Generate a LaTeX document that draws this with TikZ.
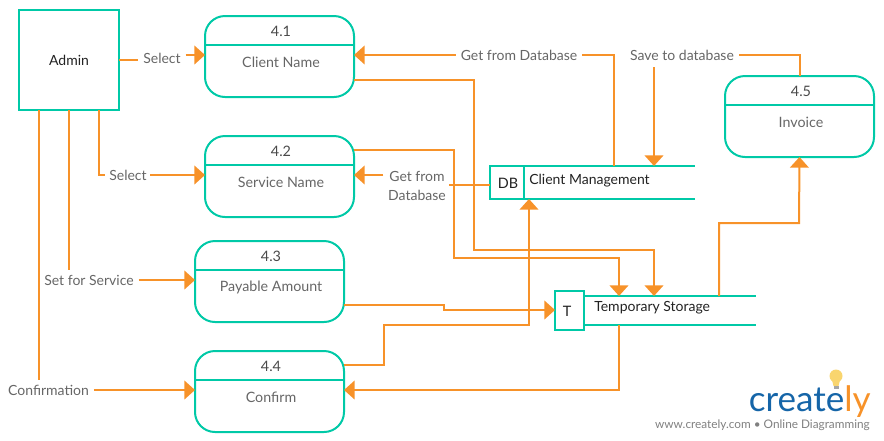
\documentclass[tikz,border=0pt]{standalone}
\usepackage{fontspec}
\setmainfont{Lato}
\usetikzlibrary{arrows.meta,calc}
\definecolor{tealc}{HTML}{00C9A7}
\definecolor{orangec}{HTML}{F79229}
\definecolor{labelc}{HTML}{666666}
\definecolor{numc}{HTML}{4A4A4A}
\definecolor{darkc}{HTML}{222222}
\definecolor{logob}{HTML}{1565A8}
\definecolor{bulbc}{HTML}{F9D56E}
\newcommand{\fs}[1]{\fontsize{#1}{#1}\selectfont}
\tikzset{
  x=0.75pt,y=-0.75pt,
  boxs/.style={draw=tealc,line width=1.5pt,outer sep=0pt,inner sep=0pt},
  proc/.style={boxs,rounded corners=15pt,minimum width=111.75pt,minimum height=60.75pt},
  divider/.style={draw=tealc,line width=1.5pt},
  conn/.style={draw=orangec,line width=1.5pt},
  flow/.style={conn,-{Triangle[length=8pt,width=14pt]}},
  lab/.style={text=labelc,font=\fs{10.5},inner sep=3.5pt,align=center},
  num/.style={text=numc,font=\fs{10.8},inner sep=0pt},
  ptxt/.style={text=labelc,font=\fs{10.7},inner sep=0pt},
  dtxt/.style={text=darkc,font=\fs{10.5},inner sep=0pt},
}
\begin{document}
\begin{tikzpicture}
\useasboundingbox (0,0) rectangle (884,440);
% external entity
\node[boxs,minimum width=75pt,minimum height=75pt] (admin) at (69,60) {};
\node[dtxt] (admintxt) at (69,60.5) {Admin};
% processes
\node[proc] (p1) at (279.5,56.5) {};
\node[proc] (p2) at (279.5,176.5) {};
\node[proc] (p3) at (269.5,281.5) {};
\node[proc] (p4) at (269.5,391.5) {};
\node[proc] (p5) at (799.5,116.5) {};
\foreach \n in {p1,p2,p3,p4,p5}{
  \draw[divider] ($(\n.north west)+(0,29)$) -- ($(\n.north east)+(0,29)$);
}
\node[num] (n1) at (281,31) {4.1};
\node[ptxt] (t1) at (281,62) {Client Name};
\node[num] (n2) at (281,151) {4.2};
\node[ptxt] (t2) at (281,182) {Service Name};
\node[num] (n3) at (271,256) {4.3};
\node[ptxt] (t3) at (271,287.5) {Payable Amount};
\node[num] (n4) at (271,366) {4.4};
\node[ptxt] (t4) at (271,397) {Confirm};
\node[num] (n5) at (801,91) {4.5};
\node[ptxt] (t5) at (801,122) {Invoice};
% data stores
\node[boxs,minimum width=25.5pt,minimum height=24.75pt] (db) at (507,182.5) {};
\draw[divider] (db.north east) -- ++(171,0) coordinate (dbe1);
\draw[divider] (db.south east) -- ++(171,0) coordinate (dbe2);
\node[dtxt,font=\fs{10.8}] (dbt) at (508,183.5) {DB};
\node[dtxt,anchor=west] (dbn) at (529,180.5) {Client Management};
\node[boxs,minimum width=21.75pt,minimum height=29.25pt] (ts) at (569.5,310.5) {};
\draw[divider] ($(ts.north east)+(0,5)$) coordinate (ts1) -- ++(172,0);
\draw[divider] ($(ts.south east)+(0,-5)$) coordinate (ts2) -- ++(172,0);
\node[dtxt,font=\fs{10.8}] (tst) at (567,311.5) {T};
\node[dtxt,anchor=west] (tsn) at (594,307.5) {Temporary Storage};
% labels
\node[lab] (s1) at (162,58) {Select};
\node[lab] (s2) at (128,175) {Select};
\node[lab] (sv) at (89,280) {Set for Service};
\node[lab] (cf) at (48.5,390) {Confirmation};
\node[lab] (g1) at (519,55) {Get from Database};
\node[lab] (sd) at (682,55) {Save to database};
\node[lab] (g2) at (417,185.5) {Get from\\[3.8pt]Database};
% connectors
\coordinate (a1) at (39,110);
\coordinate (a2) at (69,110);
\coordinate (a3) at (99,110);
\coordinate (g2r) at (449,185);
\draw[conn] (admin.east) -- (s1.west |- admin.east);
\draw[flow] (s1.east |- 0,55) -- (p1.west |- 0,55);
\draw[conn] (a3) |- (105,175);
\draw[flow] (150,175) -- (p2.west |- 0,175);
\draw[conn] (a2) -- (a2 |- sv.north);
\draw[flow] (sv.east |- 0,280) -- (p3.west |- 0,280);
\draw[conn] (a1) -- (a1 |- cf.north);
\draw[flow] (cf.east |- 0,390) -- (p4.west |- 0,390);
\draw[conn] (614,166) |- (g1.east |- 0,55);
\draw[flow] (g1.west |- 0,55) -- (p1.east |- 0,55);
\draw[conn] (p5.north) |- (sd.east |- 0,55);
\draw[flow] (654,67) -- (654,166);
\draw[conn] (db.west |- g2r) -- (g2r);
\draw[flow] (g2.west |- 0,175) -- (p2.east |- 0,175);
\draw[flow] (p1.east |- 0,80) -| (474,250) -| (654,296);
\draw[flow] (p2.east |- 0,150) -| (454,258) -| (619,296);
\draw[flow] (p3.east |- 0,305) -| (444,310) -- (ts.west |- 0,310);
\draw[flow] (p4.east |- 0,365) -| (384,325) -| (529,199);
\draw[flow] (619,325) |- (p4.east |- 0,390);
\draw[flow] (719,296) |- (799,223) -- (p5.south);
% logo
\fill[bulbc] (836,376) circle (6.5);
\fill[bulbc] (832,380) -- (840,380) -- (838.5,386) -- (833.5,386) -- cycle;
\fill[gray!70] (833.5,386) rectangle (838.5,389);
\node[anchor=base east,inner sep=0pt,font=\fs{26.3}] (logo) at (871,411) {\textcolor{logob}{create}\textcolor{orangec}{ly}};
\node[anchor=base east,inner sep=0pt,text=gray,font=\fs{8.85}] (tag) at (870,428) {www.creately.com • Online Diagramming};
\end{tikzpicture}
\end{document}
